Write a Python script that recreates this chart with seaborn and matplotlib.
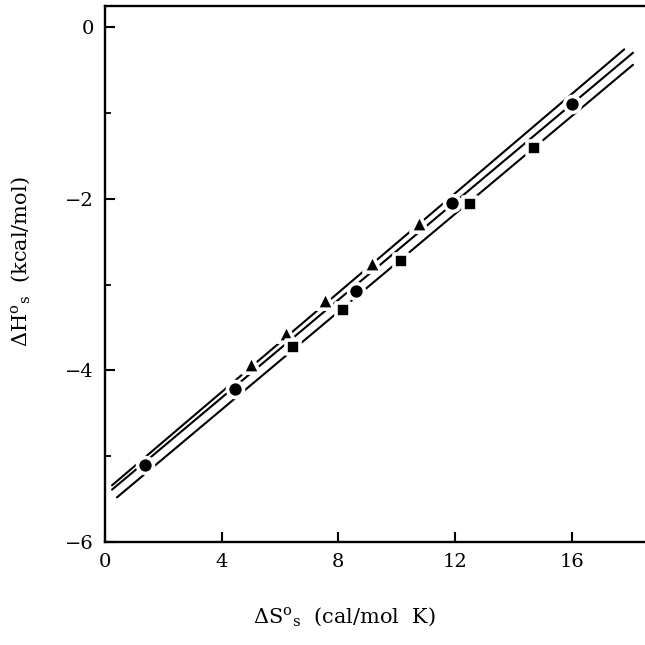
import numpy as np
import pandas as pd
import matplotlib
matplotlib.use("Agg")
import matplotlib.pyplot as plt
from matplotlib.ticker import MultipleLocator, FuncFormatter
import seaborn as sns

# ── data ────────────────────────────────────────────────────────────────────
circ_S = [1.37, 4.46, 8.60, 11.90, 16.00]
circ_H = [-5.10, -4.22, -3.08, -2.05, -0.90]

tri_S = [5.00, 6.20, 7.54, 9.15, 10.76]
tri_H = [-3.93, -3.57, -3.18, -2.75, -2.28]

sq_S = [6.45, 8.16, 10.15, 12.50, 14.70]
sq_H = [-3.73, -3.30, -2.73, -2.06, -1.41]

# end points of the drawn lines (triangle / circle / square series)
tri_line_S = [0.24, 17.80]
tri_line_H = [-5.34, -0.26]
circ_line_S = [0.24, 18.10]
circ_line_H = [-5.39, -0.30]
sq_line_S = [0.41, 18.10]
sq_line_H = [-5.48, -0.44]

# ── style ───────────────────────────────────────────────────────────────────
sns.set_style("ticks")
plt.rcParams["font.family"] = ["DejaVu Serif", "DejaVu Sans"]
plt.rcParams["mathtext.fontset"] = "dejavuserif"
plt.rcParams["text.color"] = "black"
plt.rcParams["axes.labelcolor"] = "black"
plt.rcParams["xtick.color"] = "black"
plt.rcParams["ytick.color"] = "black"
plt.rcParams["axes.edgecolor"] = "black"

fig = plt.figure(figsize=(6.45, 6.45), dpi=100)
ax = fig.add_axes([105 / 645, 103 / 645, 545 / 645, 536 / 645])

HALO = 2.6
series = [
    (tri_S, tri_H, tri_line_S, tri_line_H, "^", 12.5),
    (circ_S, circ_H, circ_line_S, circ_line_H, "o", 11.5),
    (sq_S, sq_H, sq_line_S, sq_line_H, "s", 9.8),
]

# lines first
for _, _, lx, ly, _, _ in series:
    sns.lineplot(x=lx, y=ly, ax=ax, color="black", lw=1.5, zorder=2,
                 estimator=None, sort=False)

# markers with white halo so the lines break around them
for xs, ys, _, _, mk, ms in series:
    df = pd.DataFrame({"S": xs, "H": ys})
    sns.scatterplot(data=df, x="S", y="H", ax=ax, marker=mk, s=ms ** 2,
                    color="black", edgecolor="white", linewidth=HALO,
                    zorder=3)

ax.set_xlim(0, 545 / 29.17)
ax.set_ylim(-6, 0.245)
ax.xaxis.set_major_locator(MultipleLocator(4))
ax.yaxis.set_major_locator(MultipleLocator(2))
ax.yaxis.set_minor_locator(MultipleLocator(1))
ax.tick_params(which="major", direction="in", length=7, width=1.5,
               labelsize=14, pad=8)
ax.tick_params(which="minor", direction="in", length=4, width=1.3)
fmt = FuncFormatter(lambda v, p: f"{v:.0f}".replace("-", "\u2212"))
ax.xaxis.set_major_formatter(fmt)
ax.yaxis.set_major_formatter(fmt)

for sp in ["left", "bottom", "top"]:
    ax.spines[sp].set_linewidth(1.7)
ax.spines["right"].set_visible(False)

ax.set_xlabel(r"$\Delta$S$^{\mathregular{o}}$$_{\mathregular{s}}$  (cal/mol  K)", fontsize=15)
ax.set_ylabel(r"$\Delta$H$^{\mathregular{o}}$$_{\mathregular{s}}$  (kcal/mol)", fontsize=15)
ax.xaxis.set_label_coords((344 - 105) / 545, -(605 - 542) / 536)
ax.yaxis.set_label_coords(-(105 - 32) / 545, (542 - 262) / 536)

fig.savefig("out.png", dpi=100)
